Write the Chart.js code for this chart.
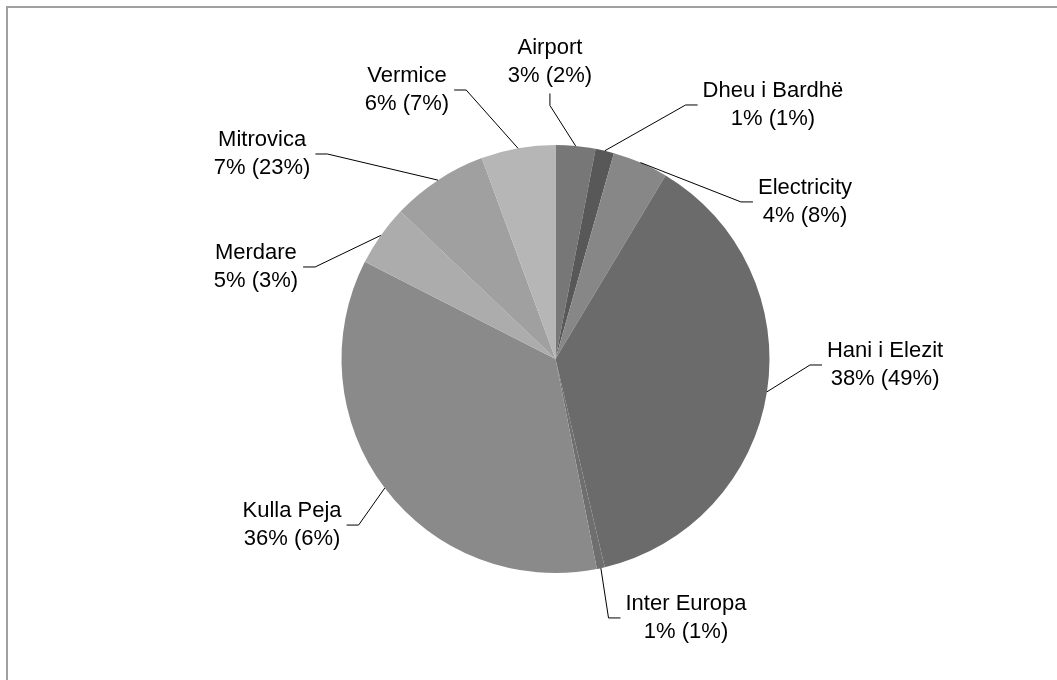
<!DOCTYPE html>
<html lang="en">
<head>
    <meta charset="UTF-8">
    <title>Pie chart</title>
    <script src="https://cdn.jsdelivr.net/npm/chart.js"></script>
    <style>
        html, body { margin: 0; padding: 0; background: #fff; }
        #wrap { width: 1057px; height: 680px; }
    </style>
</head>
<body>

<div id="wrap">
    <canvas id="pieChart" width="1057" height="680"></canvas>
</div>

<script>
    // Data (slice shares, clockwise from 12 o'clock)
    const categories = ['Airport', 'Dheu i Bardhë', 'Electricity', 'Hani i Elezit', 'Inter Europa', 'Kulla Peja', 'Merdare', 'Mitrovica', 'Vermice'];
    const shares = [3.0, 1.4, 4.2, 37.7, 0.6, 35.6, 4.6, 7.3, 5.6];
    // second figure shown in brackets in each label
    const otherShares = [2, 1, 8, 49, 1, 6, 3, 23, 7];

    const sliceColors = ['#777777', '#585858', '#878787', '#6b6b6b', '#6f6f6f', '#8a8a8a', '#acacac', '#a0a0a0', '#b6b6b6'];

    // label centres, in units of the pie radius, relative to the pie centre
    const labelOffsets = [
        [-0.026, -1.388],
        [1.016, -1.187],
        [1.166, -0.734],
        [1.540, 0.028],
        [0.610, 1.210],
        [-1.231, 0.776],
        [-1.400, -0.430],
        [-1.371, -0.958],
        [-0.694, -1.257]
    ];

    const total = shares.reduce((a, b) => a + b, 0);
    const labelFont = '22px "Liberation Sans", Arial, sans-serif';
    const lineHeight = 28.5;

    // grey frame, only top and left edges are inside the picture
    const framePlugin = {
        id: 'frame',
        beforeDraw(chart) {
            const ctx = chart.ctx;
            ctx.save();
            ctx.fillStyle = '#ffffff';
            ctx.fillRect(0, 0, chart.width, chart.height);
            ctx.strokeStyle = '#a0a0a0';
            ctx.lineWidth = 2;
            ctx.strokeRect(7, 7, chart.width + 20, chart.height + 20);
            ctx.restore();
        }
    };

    // outside labels with leader lines
    const labelPlugin = {
        id: 'outsideLabels',
        afterDraw(chart) {
            const ctx = chart.ctx;
            const meta = chart.getDatasetMeta(0);
            ctx.save();
            ctx.font = labelFont;
            ctx.textAlign = 'center';
            ctx.textBaseline = 'middle';

            meta.data.forEach((arc, i) => {
                const p = arc.getProps(['x', 'y', 'startAngle', 'endAngle', 'outerRadius'], true);
                const mid = (p.startAngle + p.endAngle) / 2;
                const sx = p.x + Math.cos(mid) * p.outerRadius;
                const sy = p.y + Math.sin(mid) * p.outerRadius;
                const lx = p.x + labelOffsets[i][0] * p.outerRadius;
                const ly = p.y + labelOffsets[i][1] * p.outerRadius;

                const pct = Math.round(shares[i] / total * 100);
                const lines = [categories[i], pct + '% (' + otherShares[i] + '%)'];
                const w = Math.max(...lines.map(t => ctx.measureText(t).width));
                const h = lineHeight * 2;
                const left = lx - w / 2, right = lx + w / 2;
                const top = ly - h / 2, bottom = ly + h / 2;

                let ex, ey, kx, ky;
                if (sx < left - 6) {
                    ex = left - 5; ey = ly; kx = ex - 12; ky = ey;
                } else if (sx > right + 6) {
                    ex = right + 5; ey = ly; kx = ex + 12; ky = ey;
                } else if (sy < top) {
                    ex = lx; ey = top - 3; kx = ex; ky = ey - 12;
                } else {
                    ex = lx; ey = bottom + 3; kx = ex; ky = ey + 12;
                }

                ctx.strokeStyle = '#000000';
                ctx.lineWidth = 1;
                ctx.beginPath();
                ctx.moveTo(sx, sy);
                ctx.lineTo(kx, ky);
                ctx.lineTo(ex, ey);
                ctx.stroke();

                ctx.fillStyle = '#000000';
                ctx.fillText(lines[0], lx, ly - lineHeight / 2);
                ctx.fillText(lines[1], lx, ly + lineHeight / 2);
            });
            ctx.restore();
        }
    };

    const ctx = document.getElementById('pieChart').getContext('2d');
    const pieChart = new Chart(ctx, {
        type: 'pie',
        data: {
            labels: categories,
            datasets: [{
                data: shares,
                backgroundColor: sliceColors,
                borderWidth: 0
            }]
        },
        options: {
            responsive: false,
            animation: false,
            layout: {
                padding: { left: 54, right: 0, top: 145, bottom: 107 }
            },
            plugins: {
                legend: { display: false },
                tooltip: { enabled: false }
            }
        },
        plugins: [framePlugin, labelPlugin]
    });
</script>

</body>
</html>
